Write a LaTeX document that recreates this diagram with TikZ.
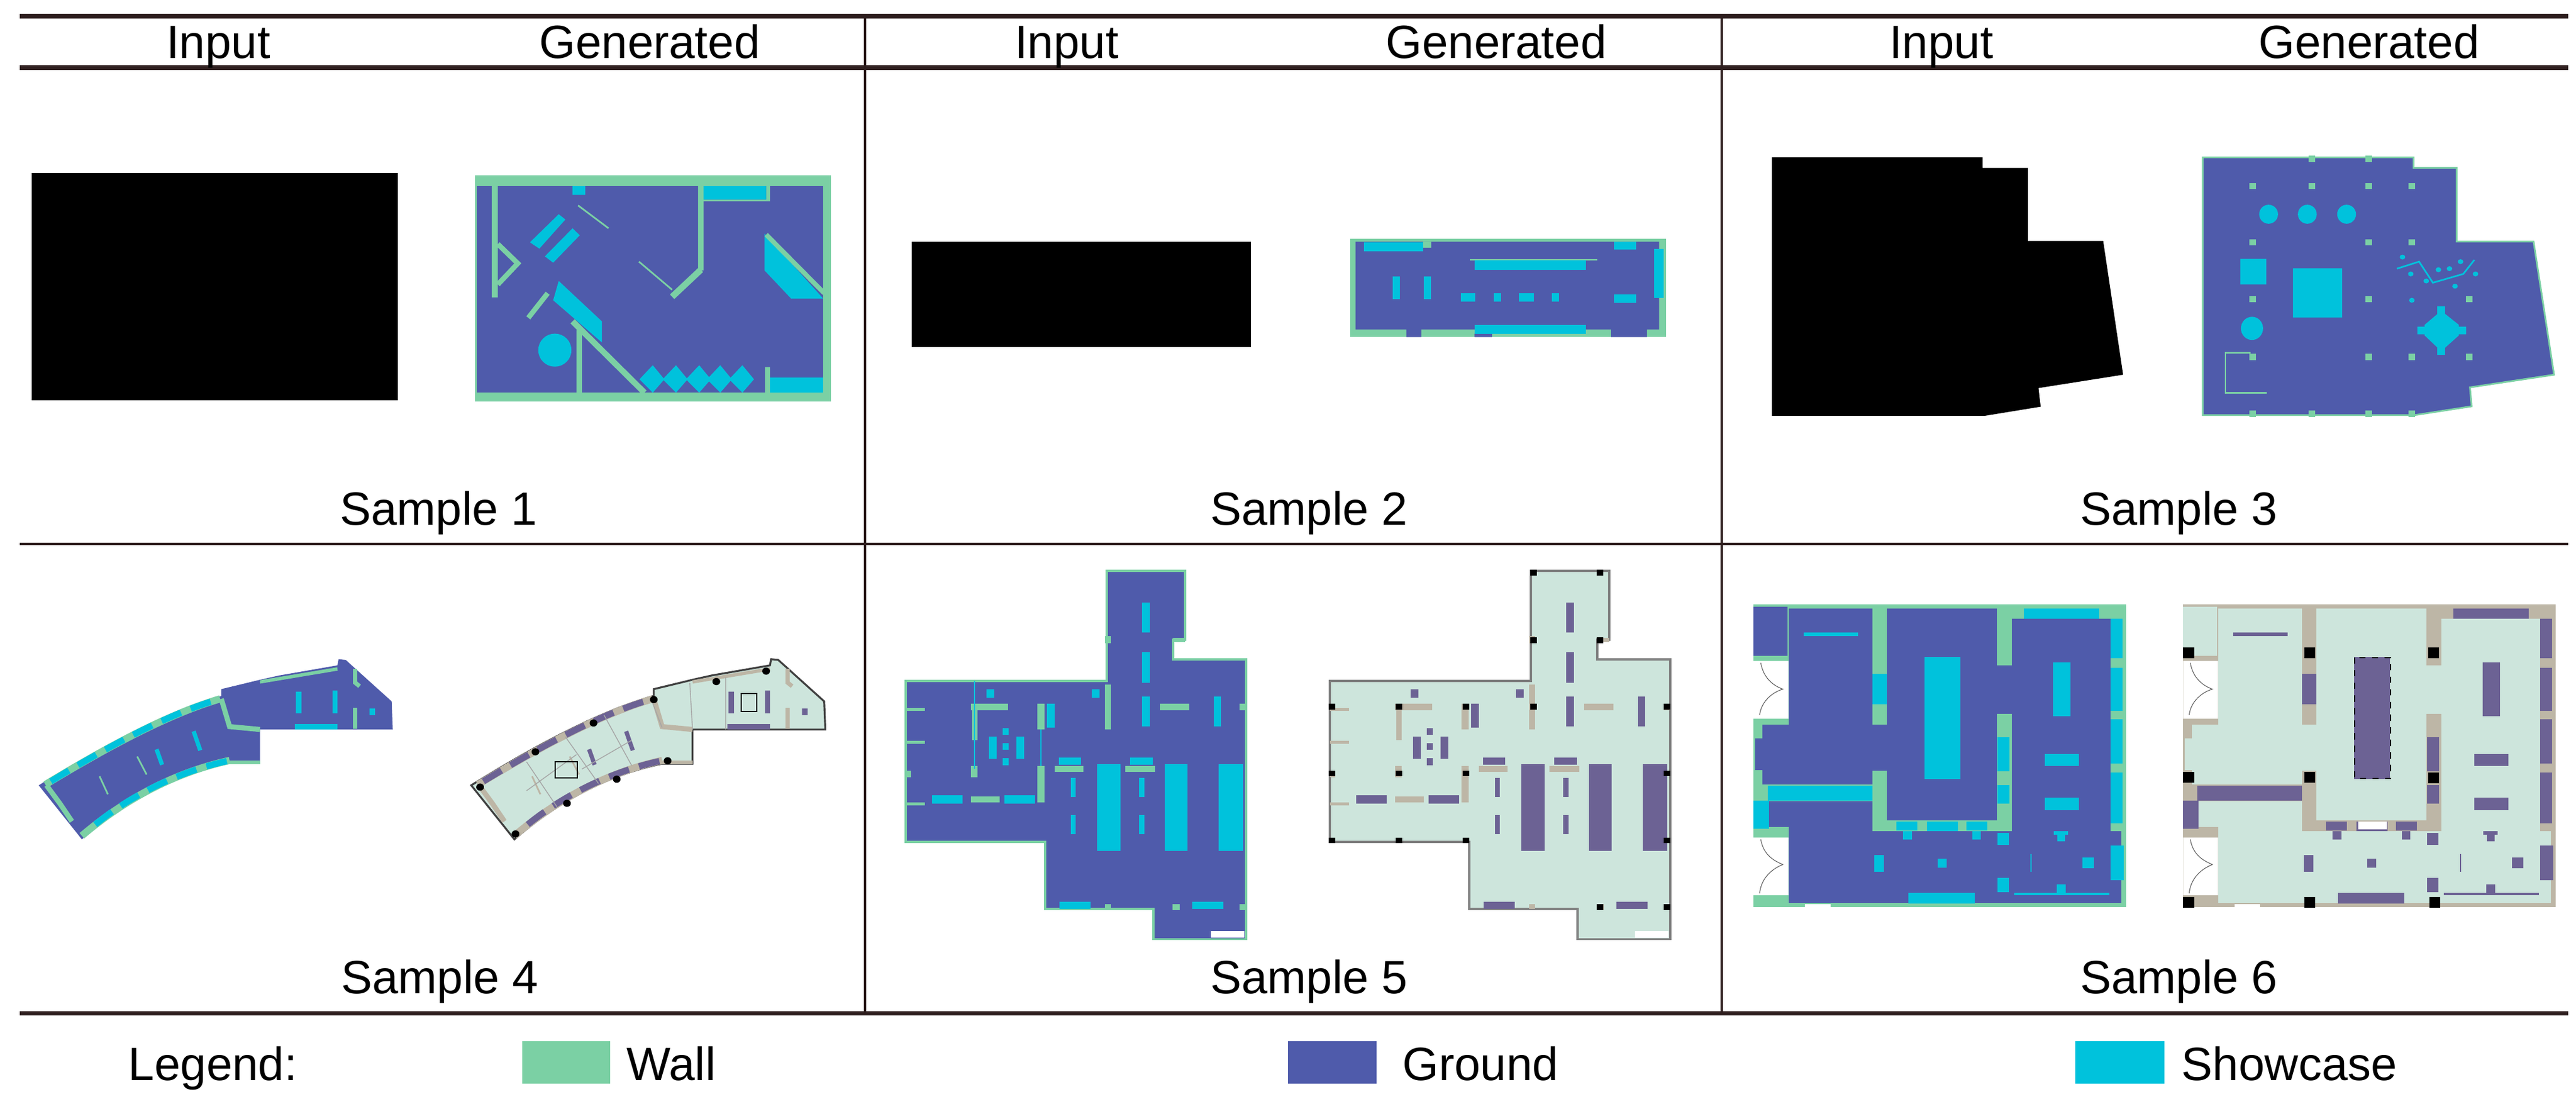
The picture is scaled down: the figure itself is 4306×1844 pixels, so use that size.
\documentclass[tikz,border=0pt]{standalone}
\usepackage{fontspec}
\setmainfont{Liberation Sans}
\definecolor{wallc}{HTML}{7BD0A4}
\definecolor{groundc}{HTML}{4F5BAB}
\definecolor{showc}{HTML}{00C2DC}
\definecolor{lightc}{HTML}{CDE5DC}
\definecolor{purplec}{HTML}{6C6294}
\definecolor{tanc}{HTML}{BDB6A6}
\definecolor{rulec}{HTML}{2E1E1E}
\tikzset{
  lab/.style={font=\fontsize{22.2}{26}\selectfont, anchor=base, inner sep=0pt},
  legendlab/.style={lab, anchor=base west},
  toprow/.style={xscale=0.9247, yscale=0.5869},
  lowrow/.style={xscale=0.9247, yscale=0.602},
  hrule/.style={draw=rulec, line width=2pt},
  thinrule/.style={draw=rulec, line width=0.9pt},
  inputplan/.style={fill=black},
  wallfill/.style={fill=wallc},
  groundfill/.style={fill=groundc},
  showfill/.style={fill=showc},
  lightfill/.style={fill=lightc},
  purplefill/.style={fill=purplec},
  tanfill/.style={fill=tanc},
  pillar/.style={fill=black},
  doorline/.style={draw=gray!70!black, line width=0.3pt}
}
% outlines that the input and generated plans share
\newcommand{\curvedOutline}{(70,685) .. controls (180,580) and (300,480) .. (400,437) -- (400,418) -- (470,392) -- (505,380) -- (610,352) -- (612,335) -- (625,337) -- (708,452) -- (710,530) -- (470,530) -- (470,625) -- (415,625) .. controls (320,655) and (230,725) .. (148,835) -- cycle}
\newcommand{\crossOutline}{(443,90) -- (585,90) -- (585,280) -- (563,280) -- (563,335) -- (695,335) -- (695,1112) -- (528,1112) -- (528,1028) -- (332,1028) -- (332,842) -- (80,842) -- (80,395) -- (443,395) -- cycle}
% sample 4: #1 wall colour, #2 showcase colour
\newcommand{\planFour}[2]{
  \draw[#1, line width=3.4pt] (82,683) .. controls (185,587) and (300,489) .. (398,445);
  \draw[#1, line width=3.4pt] (415,616) .. controls (320,648) and (230,718) .. (148,825);
  \draw[#1, line width=2.4pt] (84,685) -- (108,735) -- (130,785);
  \draw[#1, line width=2.4pt] (400,445) -- (415,522) -- (470,530);
  \draw[#1, line width=1.6pt] (415,621) -- (470,621);
  \draw[#1, line width=1.6pt] (470,398) -- (610,362);
  \draw[#1, line width=2pt] (642,362) -- (642,400) -- (650,410) (642,470) -- (642,528);
  \draw[#1, line width=0.8pt] (180,660) -- (195,710) (248,605) -- (265,655);
  \draw[#2, line width=3pt, dash pattern=on 10pt off 5pt] (92,674) .. controls (185,587) and (300,489) .. (390,449);
  \draw[#2, line width=3pt, dash pattern=on 10pt off 5pt] (410,618) .. controls (320,648) and (230,718) .. (165,803);
  \draw[#2, line width=2pt] (283,585) -- (293,628) (350,535) -- (362,588);
  \fill[#2] (535,425) rectangle (545,485) (601,422) rectangle (610,485) (533,515) rectangle (610,530) (668,472) rectangle (678,490);
}
% sample 5: #1 wall colour, #2 showcase colour
\newcommand{\planFive}[2]{
  \foreach \xa/\ya/\xb/\yb in {540/458/593/476, 198/458/265/476, 318/458/331/530, 440/405/451/530, 349/632/401/648, 477/632/531/648, 198/716/250/733, 318/632/331/733, 200/476/210/560, 198/632/210/662, 80/470/115/478, 80/562/115/570, 80/732/115/740, 563/275/585/288, 440/270/451/290, 440/1015/451/1028, 562/1015/575/1032, 683/458/695/476, 683/1015/695/1032, 80/645/90/662}
    \fill[#1] (\xa,\ya) rectangle (\xb,\yb);
  \foreach \xa/\ya/\xb/\yb in {507/177/521/260, 507/316/521/400, 507/438/521/522, 637/438/650/522, 426/626/468/867, 548/626/589/867, 646/626/690/867, 357/608/397/628, 485/608/527/628, 378/665/387/718, 502/665/511/718, 378/768/387/820, 502/768/511/820, 128/712/183/735, 258/712/314/735, 358/1008/414/1028, 598/1008/654/1028, 226/418/240/442, 416/418/430/442, 335/458/349/525, 230/550/244/612, 280/550/294/612, 255/527/266/545, 255/568/266/586, 255/610/266/630}
    \fill[#2] (\xa,\ya) rectangle (\xb,\yb);
}
% sample 6: #1 ground colour, #2 showcase colour, #3 wall colour
\newcommand{\planSix}[3]{
  \fill[#3] (77,182) rectangle (750,1024);
  \fill[white] (77,340) rectangle (140,500) (77,830) rectangle (140,990) (170,1015) rectangle (216,1024);
  \foreach \xa/\ya/\xb/\yb in {77/190/138/326, 141/194/292/516, 93/516/292/682, 80/555/93/642, 292/516/318/645, 318/194/517/783, 517/352/544/486, 544/222/722/812, 292/812/742/1012, 141/800/292/1012, 105/730/292/800}
    \fill[#1] (\xa,\ya) rectangle (\xb,\yb);
  \foreach \xa/\ya/\xb/\yb in {566/194/702/222, 722/222/744/332, 722/358/744/478, 722/502/744/624, 722/650/744/790, 722/852/746/948, 292/376/318/460, 386/329/451/667, 618/344/650/494, 603/598/665/632, 603/720/665/754, 518/552/540/646, 518/684/540/736, 103/686/292/728, 77/728/105/805, 168/261/266/270, 335/785/373/810, 390/785/447/812, 462/785/500/810, 347/812/363/836, 472/812/488/836, 518/818/538/850, 620/812/646/822, 626/822/640/840, 295/878/312/925, 410/888/426/914, 672/885/692/915, 577/876/580/926, 518/942/538/982, 357/983/477/1014, 625/960/641/985, 548/984/720/990}
    \fill[#2] (\xa,\ya) rectangle (\xb,\yb);
  \draw[doorline] (90,345) .. controls (95,390) and (115,410) .. (130,418) .. controls (105,430) and (90,460) .. (88,490);
  \draw[doorline] (90,835) .. controls (95,880) and (115,895) .. (130,905) .. controls (105,920) and (90,950) .. (88,985);
}

\begin{document}
\begin{tikzpicture}[x=0.01cm,y=-0.01cm]
\useasboundingbox (0,0) rectangle (4306,1844);

% sample 1
\begin{scope}[toprow]
\fill[inputplan] (57,492) rectangle (719,1140);
\fill[wallfill] (859,500) rectangle (1502,1143);
\fill[groundfill] (862,530) rectangle (1488,1118);
\fill[wallfill] (889,530) rectangle (900,847) (1262,530) rectangle (1272,770) (1385,530) rectangle (1392,570) (1272,568) rectangle (1392,573) (1042,940) rectangle (1052,1118) (1383,1045) rectangle (1392,1118);
\draw[wallc, line width=2.4pt] (900,695) -- (936,750) -- (900,810);
\draw[wallc, line width=3pt] (1267,768) -- (1215,845);
\draw[wallc, line width=2.8pt] (1035,915) -- (1165,1118);
\draw[wallc, line width=2.4pt] (990,835) -- (955,905);
\draw[wallc, line width=0.8pt] (1045,585) -- (1100,650) (1155,745) -- (1215,825);
\fill[showfill] (1272,530) rectangle (1385,568) (1392,1075) rectangle (1488,1118) (1035,530) rectangle (1058,555);
\fill[showfill] (1382,665) -- (1488,850) -- (1430,850) -- (1382,770) -- cycle;
\draw[wallc, line width=2.2pt] (1385,668) -- (1490,835);
\fill[showfill] (1010,610) -- (1022,625) -- (975,708) -- (958,690) -- cycle;
\fill[showfill] (1035,650) -- (1048,670) -- (1000,748) -- (985,730) -- cycle;
\fill[showfill] (1010,800) -- (1088,915) -- (1088,975) -- (1000,855) -- cycle;
\fill[showfill] (1003,997) ellipse [x radius=30, y radius=47];
\foreach \xd in {1180,1222,1264,1302,1342}
  \fill[showfill] (\xd-24,1080) -- (\xd,1040) -- (\xd+21,1080) -- (\xd,1118) -- cycle;
\end{scope}

% sample 2
\begin{scope}[shift={(1440,0)},toprow]
\fill[inputplan] (91,688) rectangle (704,989);
\fill[wallfill] (883,680) rectangle (1455,960);
\fill[groundfill] (893,688) rectangle (1442,938) (985,938) rectangle (1012,960) (1355,938) rectangle (1420,960) (1108,950) rectangle (1140,960);
\fill[wallfill] (1015,688) rectangle (1030,705) (1100,738) rectangle (1330,742) (1155,942) rectangle (1190,955);
\foreach \xa/\ya/\xb/\yb in {908/690/1015/715, 1360/688/1400/710, 1433/708/1450/848, 1108/742/1310/768, 960/788/973/852, 1016/788/1030/852, 1084/835/1110/858, 1143/835/1156/858, 1188/835/1215/858, 1248/835/1261/858, 1360/838/1400/862, 1108/926/1310/950}
  \fill[showfill] (\xa,\ya) rectangle (\xb,\yb);
\end{scope}

% sample 3
\begin{scope}[shift={(2860,0)},toprow]
\fill[inputplan] (110,448) -- (491,448) -- (491,478) -- (573,478) -- (573,686) -- (709,686) -- (745,1067) -- (592,1105) -- (596,1158) -- (495,1184) -- (110,1184) -- cycle;
\filldraw[groundfill, draw=wallc, line width=0.8pt] (889,448) -- (1270,448) -- (1270,478) -- (1348,478) -- (1348,688) -- (1487,688) -- (1524,1067) -- (1372,1103) -- (1375,1157) -- (1272,1182) -- (889,1182) -- cycle;
\foreach \xd/\yd in {979/530, 1086/530, 1189/530, 1267/530, 979/690, 1189/690, 1267/690, 979/852, 1189/852, 1371/852, 979/1016, 1189/1016, 1267/1016, 1371/1016, 1086/452, 1189/452, 979/1178, 1086/1178, 1189/1178, 1267/1178}
  \fill[wallfill] (\xd-6,\yd-9) rectangle (\xd+6,\yd+9);
\draw[wallc, line width=0.8pt] (975,1005) -- (930,1005) -- (930,1118) -- (1005,1118);
\foreach \xd in {1008,1078,1149}
  \fill[showfill] (\xd,610) ellipse [x radius=17, y radius=27];
\fill[showfill] (957,737) rectangle (1004,810) (1052,764) rectangle (1141,904);
\fill[showfill] (978,935) ellipse [x radius=20, y radius=33];
\fill[showfill] (1320,885) -- (1352,925) -- (1352,955) -- (1320,1000) -- (1290,955) -- (1290,925) -- cycle;
\fill[showfill] (1313,872) rectangle (1327,1010) (1277,930) rectangle (1365,952);
\draw[showc, line width=0.8pt] (1240,765) -- (1280,745) -- (1305,805) -- (1360,780) -- (1380,740);
\foreach \xd/\yd in {1250/732, 1265/780, 1293/800, 1315/768, 1335/765, 1355/745, 1345/815, 1382/780, 1267/855}
  \fill[showfill] (\xd,\yd) ellipse [x radius=5, y radius=7];
\end{scope}

% sample 4
\begin{scope}[shift={(0,900)},lowrow]
\fill[groundfill] \curvedOutline;
\planFour{wallc}{showc}
\end{scope}
\begin{scope}[shift={(723,900)},lowrow]
\filldraw[lightfill, draw=black!75, line width=0.9pt] \curvedOutline;
\planFour{tanc}{purplec}
\draw[gray!70, line width=0.4pt] (170,620) -- (225,745) (240,550) -- (300,680) (310,490) -- (360,630) (395,445) -- (415,525) (170,700) -- (260,600) (270,640) -- (360,560) (465,400) -- (470,530) (530,385) -- (530,530);
\draw[black, line width=0.6pt] (558,430) rectangle (586,480);
\draw[black, line width=0.5pt] (222,620) rectangle (262,665);
\foreach \xd/\yd in {86/690, 150/820, 186/592, 243/735, 291/512, 333/668, 400/447, 425/617, 513/397, 603/368}
  \fill[pillar] (\xd,\yd) ellipse [x radius=7, y radius=10];
\end{scope}

% sample 5
\begin{scope}[shift={(1440,900)},lowrow]
\filldraw[groundfill, draw=wallc, line width=1.1pt] \crossOutline;
\fill[white] (632,1090) rectangle (692,1108);
\planFive{wallfill}{showfill}
\draw[showc, line width=0.5pt] (204,395) -- (204,640) (324,530) -- (324,632);
\end{scope}
\begin{scope}[shift={(2149,900)},lowrow]
\filldraw[lightfill, draw=gray, line width=1.1pt] \crossOutline;
\fill[white] (632,1090) rectangle (692,1108);
\planFive{tanfill}{purplefill}
\foreach \xd/\yd in {448/95, 568/95, 448/282, 568/282, 84/467, 205/467, 326/467, 448/467, 689/467, 84/652, 205/652, 326/652, 689/652, 84/838, 205/838, 326/838, 689/838, 568/1023, 689/1023}
  \fill[pillar] (\xd-6,\yd-8) rectangle (\xd+6,\yd+8);
\end{scope}

% sample 6
\begin{scope}[shift={(2860,900)},lowrow]
\planSix{groundfill}{showfill}{wallfill}
\end{scope}
\begin{scope}[shift={(3578,900)},lowrow]
\planSix{lightfill}{purplefill}{tanfill}
\draw[black, dashed, line width=0.5pt] (387,330) rectangle (452,666);
\foreach \xa/\ya in {77/303, 296/303, 520/303, 77/648, 296/648, 520/650, 77/995, 296/995, 522/995}
  \fill[pillar] (\xa,\ya) rectangle (\xa+20,\ya+30);
\fill[white] (394,786) rectangle (446,808);
\end{scope}

% table rules
\coordinate (t1) at (33,27);
\coordinate (t2) at (4293,27);
\coordinate (h1) at (33,113);
\coordinate (h2) at (4293,113);
\coordinate (m1) at (33,909);
\coordinate (m2) at (4293,909);
\coordinate (b1) at (33,1693);
\coordinate (b2) at (4293,1693);
\coordinate (ca) at (1446,27);
\coordinate (cb) at (1446,1693);
\coordinate (cc) at (2878,27);
\coordinate (cd) at (2878,1693);
\draw[thinrule] (ca) -- (cb);
\draw[thinrule] (cc) -- (cd);
\draw[hrule] (t1) -- (t2);
\draw[hrule] (h1) -- (h2);
\draw[thinrule] (m1) -- (m2);
\draw[hrule] (b1) -- (b2);

\node[lab] (in1) at (365,97) {Input};
\node[lab] (gen1) at (1086,97) {Generated};
\node[lab] (in2) at (1783,97) {Input};
\node[lab] (gen2) at (2501,97) {Generated};
\node[lab] (in3) at (3245,97) {Input};
\node[lab] (gen3) at (3960,97) {Generated};
\node[lab] (sam1) at (733,877) {Sample 1};
\node[lab] (sam2) at (2188,877) {Sample 2};
\node[lab] (sam3) at (3642,877) {Sample 3};
\node[lab] (sam4) at (735,1660) {Sample 4};
\node[lab] (sam5) at (2188,1660) {Sample 5};
\node[lab] (sam6) at (3642,1660) {Sample 6};

\node[lab] (leg) at (356,1805) {Legend:};
\fill[wallfill] (873,1740) rectangle (1020,1811);
\node[legendlab] (wall) at (1047,1805) {Wall};
\fill[groundfill] (2153,1740) rectangle (2301,1811);
\node[legendlab] (ground) at (2344,1805) {Ground};
\fill[showfill] (3469,1740) rectangle (3618,1811);
\node[legendlab] (show) at (3646,1805) {Showcase};
\end{tikzpicture}
\end{document}
